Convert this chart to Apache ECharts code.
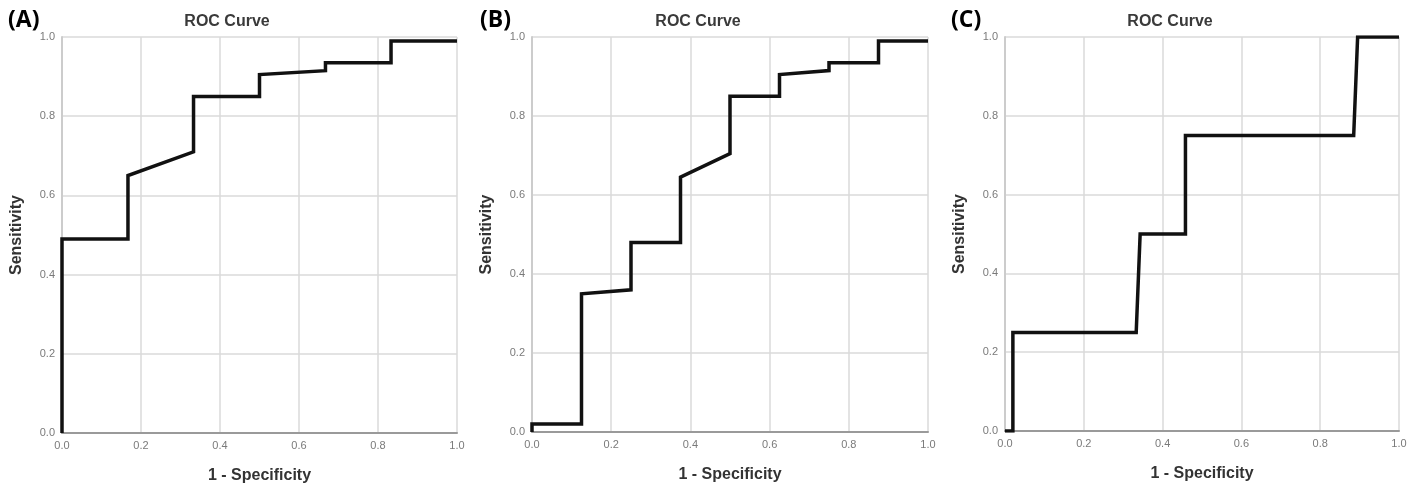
<!DOCTYPE html>
<html>
<head>
<meta charset="utf-8">
<script src="https://cdn.jsdelivr.net/npm/echarts@6/dist/echarts.min.js"></script>
<style>
  html, body { margin: 0; padding: 0; background: #fff; }
  #chart { width: 1417px; height: 485px; }
</style>
</head>
<body>
<div id="chart"></div>
<script>
// ---- Data ----
const panelLabels = ['(A)', '(B)', '(C)'];
const chartTitle = 'ROC Curve';
const xAxisName = '1 - Specificity';
const yAxisName = 'Sensitivity';
const tickLabels = ['0.0', '0.2', '0.4', '0.6', '0.8', '1.0'];

// Panel A
const fprA = [0, 0, 0.167, 0.167, 0.333, 0.333, 0.5, 0.5, 0.667, 0.667, 0.833, 0.833, 1];
const tprA = [0, 0.49, 0.49, 0.65, 0.71, 0.85, 0.85, 0.905, 0.915, 0.935, 0.935, 0.99, 0.99];
// Panel B
const fprB = [0, 0, 0.125, 0.125, 0.25, 0.25, 0.375, 0.375, 0.5, 0.5, 0.625, 0.625, 0.75, 0.75, 0.875, 0.875, 1];
const tprB = [0, 0.02, 0.02, 0.35, 0.36, 0.48, 0.48, 0.645, 0.705, 0.85, 0.85, 0.905, 0.915, 0.935, 0.935, 0.99, 0.99];
// Panel C
const fprC = [0, 0.02, 0.02, 0.333, 0.343, 0.458, 0.458, 0.885, 0.895, 1];
const tprC = [0, 0, 0.25, 0.25, 0.5, 0.5, 0.75, 0.75, 1, 1];

const fprs = [fprA, fprB, fprC];
const tprs = [tprA, tprB, tprC];

// ---- Layout ----
const grids = [
  { left: 62, top: 37, width: 395, height: 396 },
  { left: 532, top: 37, width: 396, height: 395 },
  { left: 1005, top: 37, width: 394, height: 394 }
];
const titleCenters = [227, 698, 1170];
const labelLefts = [8, 480, 951];

const font = 'Liberation Sans, Arial, sans-serif';
const tickFmt = v => {
  const i = Math.round(v / 0.2);
  return tickLabels[i] !== undefined ? tickLabels[i] : '';
};

const option = {
  animation: false,
  backgroundColor: '#ffffff',
  title: [],
  grid: grids.map(g => Object.assign({ containLabel: false, outerBoundsMode: 'none' }, g)),
  xAxis: [],
  yAxis: [],
  series: []
};

for (let i = 0; i < 3; i++) {
  option.title.push({
    text: panelLabels[i],
    left: labelLefts[i], top: 9, padding: 0,
    textStyle: { fontFamily: 'Open Sans, sans-serif', fontWeight: 'bold', fontSize: 23, color: '#000' }
  });
  option.title.push({
    text: chartTitle,
    left: titleCenters[i], top: 14, padding: 0, textAlign: 'center',
    textStyle: { fontFamily: font, fontWeight: 'bold', fontSize: 16, color: '#3a3a3a' }
  });
  option.xAxis.push({
    type: 'value', gridIndex: i, min: 0, max: 1, interval: 0.2,
    name: xAxisName, nameLocation: 'middle', nameGap: 35,
    nameTextStyle: { fontFamily: font, fontWeight: 'bold', fontSize: 16, color: '#333' },
    axisLine: { show: true, lineStyle: { color: '#9a9a9a', width: 2 } },
    axisTick: { show: false },
    axisLabel: { formatter: tickFmt, fontFamily: font, fontSize: 11, color: '#7a7a7a', margin: 7 },
    splitLine: { show: true, lineStyle: { color: '#dadada', width: 1.5 } }
  });
  option.yAxis.push({
    type: 'value', gridIndex: i, min: 0, max: 1, interval: 0.2,
    name: yAxisName, nameLocation: 'middle', nameGap: 37,
    nameTextStyle: { fontFamily: font, fontWeight: 'bold', fontSize: 16, color: '#333' },
    axisLine: { show: true, lineStyle: { color: '#cccccc', width: 2 } },
    axisTick: { show: false },
    axisLabel: { formatter: tickFmt, fontFamily: font, fontSize: 11, color: '#7a7a7a', margin: 7 },
    splitLine: { show: true, lineStyle: { color: '#dadada', width: 1.5 } }
  });
  option.series.push({
    type: 'line', xAxisIndex: i, yAxisIndex: i,
    data: fprs[i].map((x, k) => [x, tprs[i][k]]),
    showSymbol: false, symbol: 'none',
    lineStyle: { color: '#111111', width: 3.5, join: 'miter', cap: 'butt' },
    z: 5
  });
}

const chart = echarts.init(document.getElementById('chart'), null, { renderer: 'canvas' });
chart.setOption(option);
</script>
</body>
</html>
